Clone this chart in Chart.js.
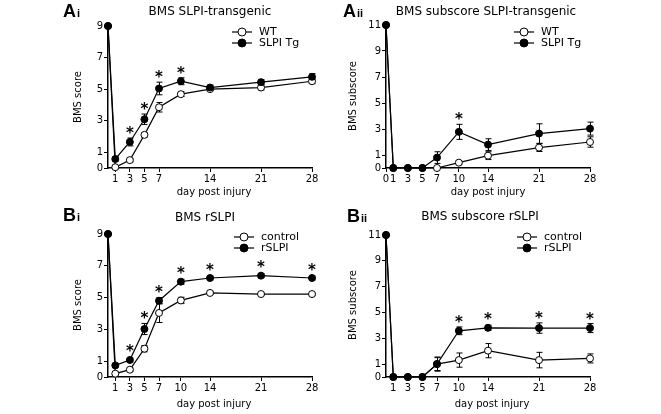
<!DOCTYPE html>
<html><head><meta charset="utf-8">
<script src="https://cdn.jsdelivr.net/npm/chart.js@4/dist/chart.umd.min.js"></script>
<style>
html,body{margin:0;padding:0;background:#fff;}
#wrap{position:relative;width:661px;height:414px;overflow:hidden;background:#fff;}
canvas{position:absolute;left:0;top:0;}
</style></head><body><div id="wrap">
<canvas id="cAi" width="661" height="414"></canvas>
<canvas id="cAii" width="661" height="414"></canvas>
<canvas id="cBi" width="661" height="414"></canvas>
<canvas id="cBii" width="661" height="414"></canvas>
</div>
<script>
// ---- data ----
const days = [0, 1, 3, 5, 7, 10, 14, 21, 28];

const xTicksAi = [1, 3, 5, 7, 14, 21, 28];
const xTicksAii = [0, 1, 3, 5, 7, 10, 14, 21, 28];
const xTicksB = [1, 3, 5, 7, 10, 14, 21, 28];
const yTicksScore = [0, 1, 3, 5, 7, 9];
const yTicksSub = [0, 1, 3, 5, 7, 9, 11];

const wtAi = [9, 0.05, 0.5, 2.1, 3.85, 4.68, 5.0, 5.1, 5.5];
const wtAiErr = [0, 0.05, 0.1, 0.15, 0.3, 0.15, 0.1, 0.15, 0.15];
const tgAi = [9, 0.57, 1.65, 3.09, 5.04, 5.5, 5.1, 5.44, 5.78];
const tgAiErr = [0, 0.15, 0.25, 0.33, 0.4, 0.22, 0.15, 0.15, 0.2];
const starsAi = [3, 5, 7, 10];

const wtAii = [11, 0, 0, 0, 0, 0.41, 0.95, 1.57, 2.0];
const wtAiiErr = [0, 0, 0, 0, 0, 0.1, 0.3, 0.3, 0.4];
const tgAii = [11, 0, 0, 0, 0.8, 2.78, 1.8, 2.65, 3.03];
const tgAiiErr = [0, 0, 0, 0, 0.45, 0.58, 0.45, 0.75, 0.5];
const starsAii = [10];

const ctrlBi = [9, 0.21, 0.46, 1.78, 4.03, 4.82, 5.29, 5.22, 5.22];
const ctrlBiErr = [0, 0.1, 0.1, 0.2, 0.6, 0.2, 0.1, 0.08, 0.08];
const rslpiBi = [9, 0.73, 1.07, 3.02, 4.8, 6.0, 6.23, 6.38, 6.23];
const rslpiBiErr = [0, 0.1, 0.12, 0.35, 0.2, 0.15, 0.12, 0.12, 0.12];
const starsBi = [3, 5, 7, 10, 14, 21, 28];

const ctrlBii = [11, 0, 0, 0, 1.0, 1.31, 2.04, 1.31, 1.44];
const ctrlBiiErr = [0, 0, 0, 0, 0.55, 0.55, 0.55, 0.6, 0.35];
const rslpiBii = [11, 0, 0, 0, 1.0, 3.58, 3.81, 3.79, 3.79];
const rslpiBiiErr = [0, 0, 0, 0, 0.5, 0.3, 0.2, 0.4, 0.35];
const starsBii = [10, 14, 21, 28];

// ---- drawing ----
const FONT = '"DejaVu Sans", Verdana, sans-serif';
const PR = 3.5;

function makePanel(id, p) {
  const YW = 24, XH = 20;
  const errPlugin = {
    id: 'panelExtras',
    beforeDatasetsDraw(chart) {
      const ctx = chart.ctx, xs = chart.scales.x, ys = chart.scales.y;
      ctx.save();
      ctx.strokeStyle = '#000'; ctx.lineWidth = 1;
      p.series.forEach(s => {
        s.values.forEach((v, j) => {
          const e = s.err[j];
          if (!e) return;
          const x = Math.round(xs.getPixelForValue(days[j])) + 0.5;
          const y1 = ys.getPixelForValue(v + e);
          const y2 = ys.getPixelForValue(Math.max(0, v - e));
          ctx.beginPath();
          ctx.moveTo(x, y1); ctx.lineTo(x, y2);
          ctx.moveTo(x - 3, y1); ctx.lineTo(x + 3, y1);
          ctx.moveTo(x - 3, y2); ctx.lineTo(x + 3, y2);
          ctx.stroke();
        });
      });
      ctx.restore();
    },
    afterDraw(chart) {
      const ctx = chart.ctx, xs = chart.scales.x, ys = chart.scales.y;
      ctx.save();
      ctx.fillStyle = '#000';
      // stars
      ctx.font = 'bold 15px ' + FONT;
      const m = ctx.measureText('*');
      const starMid = (m.actualBoundingBoxAscent - m.actualBoundingBoxDescent) / 2;
      ctx.textAlign = 'center'; ctx.textBaseline = 'alphabetic';
      p.stars.forEach(d => {
        const j = days.indexOf(d);
        let top = Infinity;
        p.series.forEach(s => {
          top = Math.min(top, ys.getPixelForValue(s.values[j] + s.err[j]), ys.getPixelForValue(s.values[j]) - PR);
        });
        const cy = top - 8;
        ctx.fillText('*', xs.getPixelForValue(d), cy + starMid);
      });
      // title
      ctx.font = '12px ' + FONT;
      ctx.textAlign = 'center'; ctx.textBaseline = 'middle';
      ctx.fillText(p.title, p.titleX, p.titleY);
      // axis titles
      ctx.font = '10px ' + FONT;
      ctx.fillText('day post injury', p.xTitleX, p.xTitleY);
      ctx.save();
      ctx.translate(p.yTitleX, p.yTitleY);
      ctx.rotate(-Math.PI / 2);
      ctx.fillText(p.yTitle, 0, 0);
      ctx.restore();
      // panel label
      ctx.textAlign = 'left'; ctx.textBaseline = 'alphabetic';
      ctx.font = 'bold 18px "Liberation Sans", Arial, sans-serif';
      ctx.fillText(p.letter, p.labelX, p.labelY);
      const lw = ctx.measureText(p.letter).width;
      ctx.font = 'bold 11px "Liberation Sans", Arial, sans-serif';
      ctx.fillText(p.roman, p.labelX + lw + 1, p.labelY);
      // legend
      ctx.font = '11px ' + FONT;
      ctx.textBaseline = 'middle';
      p.series.forEach((s, i) => {
        const cy = p.legY + i * 11;
        ctx.strokeStyle = '#000'; ctx.lineWidth = 1.2;
        ctx.beginPath(); ctx.moveTo(p.legX - 10, cy); ctx.lineTo(p.legX + 10, cy); ctx.stroke();
        ctx.beginPath(); ctx.arc(p.legX, cy, 4, 0, Math.PI * 2);
        ctx.fillStyle = s.filled ? '#000' : '#fff'; ctx.fill();
        ctx.lineWidth = 1; ctx.stroke();
        ctx.fillStyle = '#000';
        ctx.fillText(s.name, p.legX + 17, cy + 0.5);
      });
      ctx.restore();
    }
  };
  const axisCommon = (ticksArr) => ({
    type: 'linear',
    afterBuildTicks: s => { s.ticks = ticksArr.map(v => ({ value: v })); },
    ticks: { color: '#000', font: { family: FONT, size: 10 }, padding: 1, autoSkip: false, maxRotation: 0 },
    grid: { display: true, drawOnChartArea: false, drawTicks: true, tickLength: 4, tickColor: '#000', tickWidth: 1 },
    border: { display: true, color: '#000', width: 1.5 }
  });
  const xAxis = Object.assign(axisCommon(p.xTicks), { min: 0, max: 28, afterFit: s => { s.height = XH; } });
  const yAxis = Object.assign(axisCommon(p.yTicks), { min: 0, max: p.yMax, afterFit: s => { s.width = YW; } });
  return new Chart(document.getElementById(id), {
    type: 'line',
    data: {
      datasets: p.series.map((s, i) => ({
        label: s.name,
        data: s.values.map((v, j) => ({ x: days[j], y: v })),
        borderColor: '#000', borderWidth: 1.2,
        pointRadius: PR, pointBorderWidth: 1, pointBorderColor: '#000',
        pointBackgroundColor: s.filled ? '#000' : '#fff',
        tension: 0, clip: false, order: s.filled ? 0 : 1
      }))
    },
    options: {
      responsive: false, animation: false, events: [],
      layout: { padding: { left: p.L - YW, right: 661 - p.R, top: p.T, bottom: 414 - p.B - XH } },
      scales: { x: xAxis, y: yAxis },
      plugins: { legend: { display: false }, tooltip: { enabled: false }, title: { display: false } }
    },
    plugins: [errPlugin]
  });
}

makePanel('cAi', {
  L: 108, R: 312, T: 26, B: 168, yMax: 9, xTicks: xTicksAi, yTicks: yTicksScore,
  series: [
    { name: 'WT', values: wtAi, err: wtAiErr, filled: false },
    { name: 'SLPI Tg', values: tgAi, err: tgAiErr, filled: true }
  ],
  stars: starsAi, title: 'BMS SLPI-transgenic', titleX: 210, titleY: 12,
  yTitle: 'BMS score', yTitleX: 78, yTitleY: 97, xTitleX: 214, xTitleY: 192,
  letter: 'A', roman: 'i', labelX: 63, labelY: 17, legX: 242, legY: 32
});
makePanel('cAii', {
  L: 386, R: 590, T: 25, B: 168, yMax: 11, xTicks: xTicksAii, yTicks: yTicksSub,
  series: [
    { name: 'WT', values: wtAii, err: wtAiiErr, filled: false },
    { name: 'SLPI Tg', values: tgAii, err: tgAiiErr, filled: true }
  ],
  stars: starsAii, title: 'BMS subscore SLPI-transgenic', titleX: 486, titleY: 12,
  yTitle: 'BMS subscore', yTitleX: 353, yTitleY: 96, xTitleX: 488, xTitleY: 192,
  letter: 'A', roman: 'ii', labelX: 343, labelY: 17, legX: 524, legY: 32
});
makePanel('cBi', {
  L: 108, R: 312, T: 234, B: 377, yMax: 9, xTicks: xTicksB, yTicks: yTicksScore,
  series: [
    { name: 'control', values: ctrlBi, err: ctrlBiErr, filled: false },
    { name: 'rSLPI', values: rslpiBi, err: rslpiBiErr, filled: true }
  ],
  stars: starsBi, title: 'BMS rSLPI', titleX: 205, titleY: 218,
  yTitle: 'BMS score', yTitleX: 78, yTitleY: 305, xTitleX: 214, xTitleY: 404,
  letter: 'B', roman: 'i', labelX: 63, labelY: 221, legX: 244, legY: 237
});
makePanel('cBii', {
  L: 386, R: 590, T: 235, B: 377, yMax: 11, xTicks: xTicksB, yTicks: yTicksSub,
  series: [
    { name: 'control', values: ctrlBii, err: ctrlBiiErr, filled: false },
    { name: 'rSLPI', values: rslpiBii, err: rslpiBiiErr, filled: true }
  ],
  stars: starsBii, title: 'BMS subscore rSLPI', titleX: 480, titleY: 217,
  yTitle: 'BMS subscore', yTitleX: 353, yTitleY: 305, xTitleX: 492, xTitleY: 404,
  letter: 'B', roman: 'ii', labelX: 347, labelY: 222, legX: 527, legY: 237
});
</script>
</body></html>
